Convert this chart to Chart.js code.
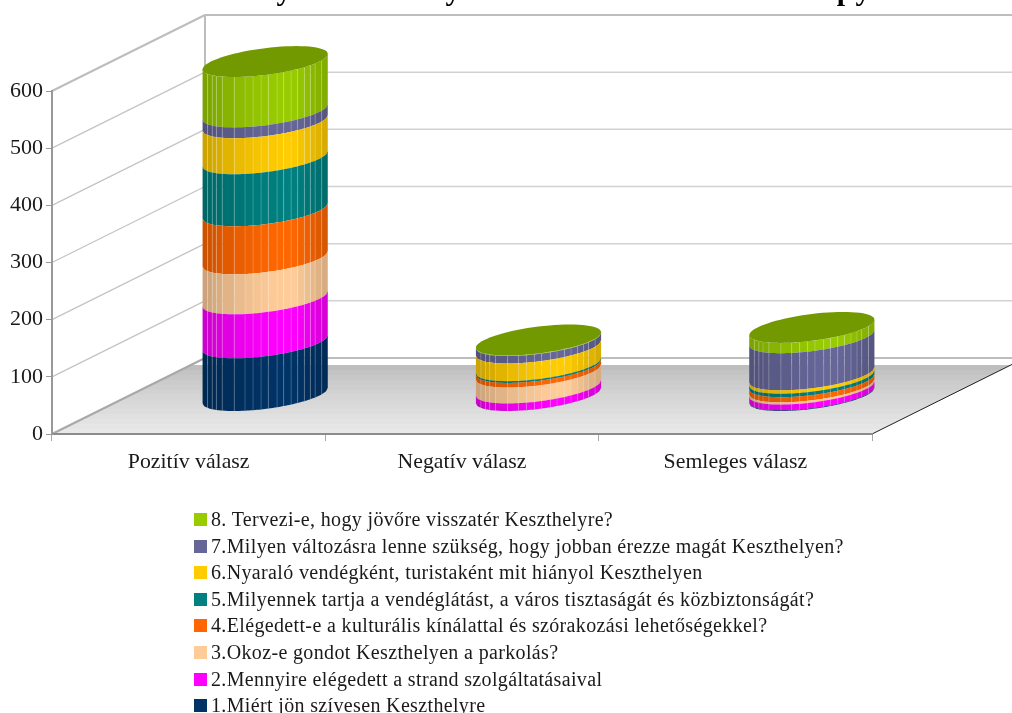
<!DOCTYPE html>
<html>
<head>
<meta charset="utf-8">
<style>
  html, body { margin: 0; padding: 0; background: #fff; width: 1012px; height: 713px; overflow: hidden; }
  #chart { position: absolute; left: 0; top: 0; }
  #legend { position: absolute; left: 194px; top: 513px; font-family: "Liberation Serif", serif; font-size: 20px; letter-spacing: 0.35px; color: #1a1a1a; }
  #legend div { position: relative; height: 26.6px; white-space: nowrap; }
  #legend i { position: absolute; left: 0; top: 0; width: 13px; height: 13px; }
  #legend span { position: absolute; left: 17px; top: -6px; line-height: 24px; }
</style>
</head>
<body>
<canvas id="chart" width="1012" height="713"></canvas>
<div id="legend"></div>
<script src="https://cdn.jsdelivr.net/npm/chart.js@4/dist/chart.umd.js"></script>
<script>
const categories = ["Pozitív válasz", "Negatív válasz", "Semleges válasz"];
const questions = [
  "1.Miért jön szívesen Keszthelyre",
  "2.Mennyire elégedett a strand szolgáltatásaival",
  "3.Okoz-e gondot Keszthelyen a parkolás?",
  "4.Elégedett-e a kulturális kínálattal és szórakozási lehetőségekkel?",
  "5.Milyennek tartja a vendéglátást, a város tisztaságát és közbiztonságát?",
  "6.Nyaraló vendégként, turistaként mit hiányol Keszthelyen",
  "7.Milyen változásra lenne szükség, hogy jobban érezze magát Keszthelyen?",
  "8. Tervezi-e, hogy jövőre visszatér Keszthelyre?"
];
const colors = ["#003366", "#FF00FF", "#FFCC99", "#FF6600", "#008080", "#FFCC00", "#666699", "#99CC00"];

const q1 = [93, 1, 2];
const q2 = [77, 13, 10];
const q3 = [70, 28, 4];
const q4 = [84, 8, 9];
const q5 = [91, 3, 6];
const q6 = [63, 31, 6];
const q7 = [19, 13, 65];
const q8 = [88, 1, 18];
const series = [q1, q2, q3, q4, q5, q6, q7, q8];

const yTicks = [0, 100, 200, 300, 400, 500, 600];
// the only readable pieces of the cut off title
const titleBits = ["y", "y", "p", "y"];

// how far the back wall sits behind the front plane
const DEPTH_X = 153;
const DEPTH_Y = 76;
// depth radius of a cylinder on screen
const RAD_X = 31.2;
const RAD_Y = -15.5;
const FACETS = [0, .04, .077, .11, .157, .253, .339, .403, .467, .525, .595, .648, .707, .76, .813, .861, .899, .952, 1];

function shadeColor(hex, b) {
  const n = parseInt(hex.slice(1), 16);
  const r = Math.round((n >> 16 & 255) * b);
  const g = Math.round((n >> 8 & 255) * b);
  const bl = Math.round((n & 255) * b);
  return "rgb(" + r + "," + g + "," + bl + ")";
}

function facetLight(f) {
  if (f < 0.72) return 0.79 + 0.21 * Math.sin(Math.PI / 2 * f / 0.72);
  return 1 - (f - 0.72) / 0.28 * 0.17;
}

// y of the front half of the ellipse at a given x
function frontY(x, cx, cy, a) {
  const R = Math.hypot(a, RAD_X);
  const t0 = Math.atan2(RAD_X, a);
  const u = Math.max(-1, Math.min(1, (x - cx) / R));
  return cy + RAD_Y * Math.sin(t0 + 2 * Math.PI - Math.acos(u));
}

class CylinderBar extends Chart.BarElement {
  draw(ctx) {
    const p = this.getProps(["x", "y", "base", "width"]);
    const a = p.width / 2;
    const R = Math.hypot(a, RAD_X);
    const cx = p.x + DEPTH_X / 2;
    const top = p.y - DEPTH_Y / 2;
    const bottom = p.base - DEPTH_Y / 2;
    const color = this.options.backgroundColor;
    const steps = 4;
    ctx.save();
    for (let i = 0; i < FACETS.length - 1; i++) {
      const x0 = cx - R + 2 * R * FACETS[i];
      const x1 = cx - R + 2 * R * FACETS[i + 1];
      const mid = (FACETS[i] + FACETS[i + 1]) / 2;
      ctx.fillStyle = shadeColor(color, facetLight(mid));
      ctx.beginPath();
      for (let s = 0; s <= steps; s++) {
        const sx = x0 + (x1 - x0) * s / steps;
        ctx.lineTo(sx, frontY(sx, cx, top, a));
      }
      for (let s = steps; s >= 0; s--) {
        const sx = x0 + (x1 - x0) * s / steps;
        ctx.lineTo(sx, frontY(sx, cx, bottom, a));
      }
      ctx.closePath();
      ctx.fill();
      if (i > 0) {
        ctx.strokeStyle = "rgba(255,255,255,0.2)";
        ctx.lineWidth = 1;
        ctx.beginPath();
        ctx.moveTo(x0, frontY(x0, cx, top, a));
        ctx.lineTo(x0, frontY(x0, cx, bottom, a));
        ctx.stroke();
      }
    }
    ctx.restore();
  }
}
CylinderBar.id = "cylinderBar";
CylinderBar.defaults = Chart.BarElement.defaults;

class CylinderController extends Chart.BarController {}
CylinderController.id = "cylinder";
CylinderController.defaults = Object.assign({}, Chart.BarController.defaults, { dataElementType: "cylinderBar" });
CylinderController.overrides = Chart.BarController.overrides;

Chart.register(CylinderBar, CylinderController);

// walls, floor and the scrap of title, behind everything else
const roomPlugin = {
  id: "room",
  beforeDraw(chart) {
    const ctx = chart.ctx;
    const xs = chart.scales.x;
    const ys = chart.scales.y;
    const left = xs.left, right = xs.right;
    const y0 = ys.getPixelForValue(0);
    const yMax = ys.getPixelForValue(600);
    ctx.save();

    ctx.fillStyle = "#000";
    ctx.font = "bold 30px 'Liberation Serif', serif";
    ctx.textAlign = "center";
    ctx.textBaseline = "alphabetic";
    const bitX = [284, 453, 845, 863];
    titleBits.forEach((t, i) => ctx.fillText(t, bitX[i], 0));

    // floor, in narrow bands like the original
    const floorTop = 365;
    const bands = 14;
    for (let i = 0; i < bands; i++) {
      const a = floorTop + (y0 - floorTop) * i / bands;
      const b = floorTop + (y0 - floorTop) * (i + 1) / bands;
      const g = Math.round(190 + (232 - 190) * Math.pow(i / (bands - 1), 0.8));
      const xa = left + DEPTH_X * (y0 - a) / DEPTH_Y;
      const xb = left + DEPTH_X * (y0 - b) / DEPTH_Y;
      ctx.fillStyle = "rgb(" + g + "," + g + "," + g + ")";
      ctx.beginPath();
      ctx.moveTo(xa, a);
      ctx.lineTo(xa + (right - left), a);
      ctx.lineTo(xb + (right - left), b + 0.5);
      ctx.lineTo(xb, b + 0.5);
      ctx.closePath();
      ctx.fill();
    }

    // lines on the side wall and on the back wall
    yTicks.forEach((v) => {
      const y = ys.getPixelForValue(v);
      const edge = v === 0 || v === 600;
      ctx.strokeStyle = v === 0 ? "#a8a8a8" : (edge ? "#bdbdbd" : "#c4c4c4");
      ctx.lineWidth = edge ? 2 : 1.3;
      ctx.beginPath();
      ctx.moveTo(left, y);
      ctx.lineTo(left + DEPTH_X, y - DEPTH_Y);
      ctx.stroke();
      ctx.strokeStyle = edge ? "#bdbdbd" : "#d2d2d2";
      ctx.lineWidth = edge ? 2 : 1.5;
      ctx.beginPath();
      ctx.moveTo(left + DEPTH_X, y - DEPTH_Y);
      ctx.lineTo(right + DEPTH_X, y - DEPTH_Y);
      ctx.stroke();
    });
    ctx.strokeStyle = "#bdbdbd";
    ctx.lineWidth = 2;
    ctx.beginPath();
    ctx.moveTo(left + DEPTH_X, yMax - DEPTH_Y);
    ctx.lineTo(left + DEPTH_X, y0 - DEPTH_Y);
    ctx.stroke();

    // black edge on the right of the floor
    ctx.strokeStyle = "#222";
    ctx.lineWidth = 1;
    ctx.beginPath();
    ctx.moveTo(right, y0);
    ctx.lineTo(right + DEPTH_X, y0 - DEPTH_Y);
    ctx.stroke();
    ctx.restore();
  },
  afterDatasetsDraw(chart) {
    // lid of each cylinder, darker than the top series
    const ctx = chart.ctx;
    const last = chart.getDatasetMeta(series.length - 1);
    last.data.forEach((bar) => {
      const a = bar.width / 2;
      const cx = bar.x + DEPTH_X / 2;
      const cy = bar.y - DEPTH_Y / 2;
      ctx.fillStyle = shadeColor(colors[series.length - 1], 0.75);
      ctx.beginPath();
      for (let i = 0; i < 72; i++) {
        const t = i / 72 * 2 * Math.PI;
        ctx.lineTo(cx + a * Math.cos(t) + RAD_X * Math.sin(t), cy + RAD_Y * Math.sin(t));
      }
      ctx.closePath();
      ctx.fill();
    });
  }
};

const datasets = series.map((values, i) => ({
  label: questions[i],
  data: values,
  backgroundColor: colors[i],
  clip: false
}));

const chart = new Chart(document.getElementById("chart"), {
  type: "cylinder",
  data: { labels: categories, datasets: datasets },
  plugins: [roomPlugin],
  options: {
    responsive: false,
    animation: false,
    events: [],
    barPercentage: 1,
    categoryPercentage: 0.397,
    layout: { padding: { left: 0, top: 91, right: 140, bottom: 239 } },
    plugins: { legend: { display: false }, title: { display: false }, tooltip: { enabled: false } },
    scales: {
      x: {
        stacked: true,
        afterFit(scale) { scale.height = 40; },
        border: { color: "#8c8c8c", width: 2 },
        grid: { offset: true, drawOnChartArea: false, color: "#a8a8a8", tickLength: 7 },
        ticks: { color: "#1a1a1a", padding: 8, maxRotation: 0, font: { family: "'Liberation Serif', serif", size: 21.8 } }
      },
      y: {
        stacked: true,
        min: 0,
        max: 600,
        afterFit(scale) { scale.width = 52; },
        afterBuildTicks(scale) { scale.ticks = yTicks.map((v) => ({ value: v })); },
        border: { color: "#999", width: 2 },
        grid: { drawOnChartArea: false, color: "#999", tickLength: 6 },
        ticks: { color: "#1a1a1a", padding: 3, font: { family: "'Liberation Serif', serif", size: 22 } }
      }
    }
  }
});

// vertical legend, top series first
const legendBox = document.getElementById("legend");
chart.data.datasets.slice().reverse().forEach((d) => {
  const row = document.createElement("div");
  const box = document.createElement("i");
  box.style.background = d.backgroundColor;
  const text = document.createElement("span");
  text.textContent = d.label;
  row.appendChild(box);
  row.appendChild(text);
  legendBox.appendChild(row);
});
</script>
</body>
</html>
